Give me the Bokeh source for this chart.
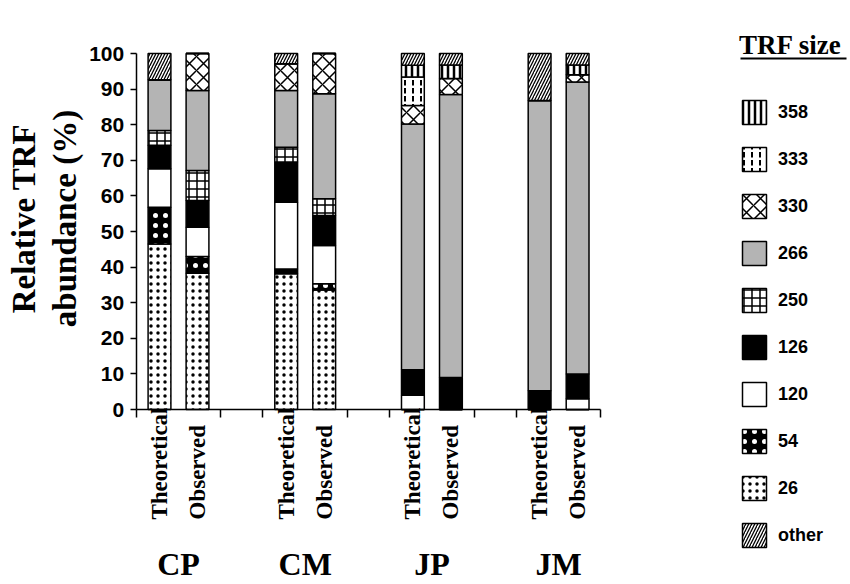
import math
from bokeh.plotting import figure
from bokeh.models import (Range1d, FixedTicker, Legend, LegendItem, ColumnDataSource,
                          LabelSet, Label, BoxAnnotation, LinearAxis)
from bokeh.core.properties import value
from bokeh.embed import file_html
from bokeh.resources import INLINE

# ---------------- data ----------------
groups = ["CP", "CM", "JP", "JM"]
bar_types = ["Theoretical", "Observed"]
# TRF sizes in stacking order (bottom -> top)
sizes = ["26", "54", "120", "126", "250", "266", "330", "333", "358", "other"]
legend_order = ["358", "333", "330", "266", "250", "126", "120", "54", "26", "other"]

# bars: CP-T, CP-O, CM-T, CM-O, JP-T, JP-O, JM-T, JM-O  (relative abundance, %)
v26    = [46.5, 38.3, 38.1, 33.6, 0.0, 0.0, 0.0, 0.0]
v54    = [10.3, 4.7, 1.4, 1.7, 0.0, 0.0, 0.0, 0.0]
v120   = [10.8, 8.2, 18.7, 10.8, 4.0, 0.0, 0.0, 3.0]
v126   = [6.6, 7.5, 11.3, 8.4, 7.2, 9.0, 5.3, 7.0]
v250   = [4.2, 8.4, 4.2, 4.7, 0.0, 0.0, 0.0, 0.0]
v266   = [14.2, 22.5, 15.9, 29.5, 69.0, 79.5, 81.5, 82.0]
v330   = [0.0, 10.4, 7.5, 11.3, 5.2, 4.5, 0.0, 2.0]
v333   = [0.0, 0.0, 0.0, 0.0, 8.0, 0.0, 0.0, 0.0]
v358   = [0.0, 0.0, 0.0, 0.0, 3.3, 3.8, 0.0, 2.8]
vother = [7.4, 0.0, 2.9, 0.0, 3.3, 3.2, 13.2, 3.2]

y_ticks = list(range(0, 101, 10))
y_title = ["Relative TRF", "abundance (%)"]
legend_title = "TRF size"

# ---------------- layout helpers ----------------
W, H = 850, 584
PX_X = 126.7          # pixels per group
PX_Y = 3.56           # pixels per percent
X0_PX, Y0_PX = 178, 409   # pixel position of group 0 centre / y = 0


def dx(px):
    return (px - X0_PX) / PX_X


def dy(py):
    return (Y0_PX - py) / PX_Y


offset = 0.15
bar_w = 0.18
xs, bar_labels = [], []
for gi, g in enumerate(groups):
    for ti, t in enumerate(bar_types):
        xs.append(gi + (-offset if ti == 0 else offset))
        bar_labels.append(t)
half = 0.334
edges = []
for gi in range(len(groups)):
    edges += [gi - half, gi + half]
x_axis_start = -half
x_axis_end = len(groups) - 1 + half

p = figure(width=W, height=H, output_backend="svg", toolbar_location=None,
           x_range=Range1d(dx(0), dx(W)), y_range=Range1d(dy(H), dy(0)),
           x_axis_location=None, y_axis_location=None,
           min_border=0)
p.outline_line_color = None
p.grid.visible = False
p.background_fill_color = "white"

data = dict(x=xs)
for s, arr in zip(sizes, [v26, v54, v120, v126, v250, v266, v330, v333, v358, vother]):
    data[s] = arr
src = ColumnDataSource(data)

style = {
    "26":    dict(fill="white", hatch=".", hc="black", hs=7, hw=1.2),
    "54":    dict(fill="black", hatch=".", hc="white", hs=10, hw=3.0),
    "120":   dict(fill="white", hatch=" ", hc="black", hs=8, hw=1.0),
    "126":   dict(fill="black", hatch=" ", hc="black", hs=8, hw=1.0),
    "250":   dict(fill="white", hatch="+", hc="black", hs=8, hw=1.5),
    "266":   dict(fill="#b4b4b4", hatch=" ", hc="black", hs=8, hw=1.0),
    "330":   dict(fill="white", hatch="x", hc="black", hs=14, hw=1.5),
    "333":   dict(fill="white", hatch=":", hc="black", hs=8, hw=2.0),
    "358":   dict(fill="white", hatch="|", hc="black", hs=6, hw=2.5),
    "other": dict(fill="white", hatch="/", hc="black", hs=6, hw=1.3),
}

rs = p.vbar_stack(sizes, x="x", width=bar_w, source=src,
                  fill_color=[style[s]["fill"] for s in sizes],
                  hatch_pattern=[style[s]["hatch"] for s in sizes],
                  hatch_color=[style[s]["hc"] for s in sizes],
                  hatch_scale=[style[s]["hs"] for s in sizes],
                  hatch_weight=[style[s]["hw"] for s in sizes],
                  line_color="black", line_width=1.5)
rmap = dict(zip(sizes, rs))

# ---------------- axes (fixed inside the frame) ----------------
ya = LinearAxis(fixed_location=x_axis_start)
ya.bounds = (0, 100)
ya.ticker = FixedTicker(ticks=y_ticks)
ya.major_label_text_font = "Liberation Sans"
ya.major_label_text_font_style = "bold"
ya.major_label_text_font_size = "21px"
ya.major_label_text_color = "black"
ya.major_label_standoff = 6
ya.major_tick_out = 6
ya.major_tick_in = 0
ya.minor_tick_out = 0
ya.minor_tick_in = 0
ya.axis_line_width = 1.5
ya.major_tick_line_width = 1.5
p.add_layout(ya, "left")

xa = LinearAxis(fixed_location=0)
xa.bounds = (x_axis_start, x_axis_end)
xa.ticker = FixedTicker(ticks=[], minor_ticks=edges)
xa.major_tick_out = 0
xa.major_tick_in = 0
xa.minor_tick_out = 8
xa.minor_tick_in = 0
xa.minor_tick_line_color = "black"
xa.minor_tick_line_width = 1.5
xa.axis_line_width = 1.5
p.add_layout(xa, "below")

# y-axis title (two lines)
for txt, bx in zip(y_title, [23, 64]):
    p.add_layout(Label(x=dx(bx), y=dy(218), text=txt, angle=math.pi / 2,
                       text_align="center", text_baseline="alphabetic",
                       text_font="Liberation Serif", text_font_style="bold",
                       text_font_size="33px", text_color="black"))

# bar labels (rotated) and group labels
lab_src = ColumnDataSource(dict(x=xs, y=[dy(519)] * len(xs), text=bar_labels))
p.add_layout(LabelSet(x="x", y="y", text="text", source=lab_src, angle=math.pi / 2,
                      text_align="left", text_baseline="middle",
                      text_font=value("Liberation Serif"), text_font_style="bold",
                      text_font_size="23px", text_color="black"))
grp_src = ColumnDataSource(dict(x=list(range(len(groups))), y=[dy(574)] * len(groups),
                                text=groups))
p.add_layout(LabelSet(x="x", y="y", text="text", source=grp_src,
                      text_align="center", text_baseline="alphabetic",
                      text_font=value("Liberation Serif"), text_font_style="bold",
                      text_font_size="32px", text_color="black"))

# ---------------- legend ----------------
legend = Legend(items=[LegendItem(label=s, renderers=[rmap[s]]) for s in legend_order],
                location=(739, H - 550), title=legend_title,
                title_text_font="Liberation Serif", title_text_font_style="bold",
                title_text_font_size="27px", title_text_color="black", title_standoff=36,
                label_text_font="Liberation Sans", label_text_font_style="bold",
                label_text_font_size="18px", label_text_color="black",
                glyph_width=30, glyph_height=30, label_height=30, spacing=17,
                label_standoff=9, padding=0, margin=0,
                border_line_color=None, background_fill_alpha=0)
p.add_layout(legend)

p.add_layout(BoxAnnotation(left=dx(740), right=dx(846), bottom=dy(59), top=dy(57),
                           fill_color="black", fill_alpha=1.0, line_color=None))

open("out.html", "w").write(file_html(p, INLINE))
